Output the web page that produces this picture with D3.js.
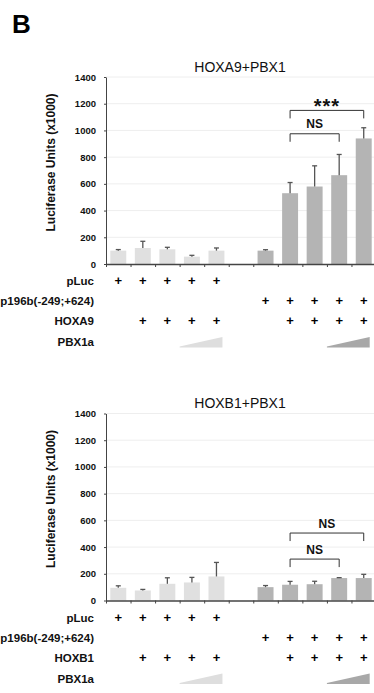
<!DOCTYPE html>
<html>
<head>
<meta charset="utf-8">
<script src="https://cdn.jsdelivr.net/npm/d3@7"></script>
<style>
  html, body { margin: 0; padding: 0; background: #fff; }
  svg { display: block; font-family: "Liberation Sans", Arial, sans-serif; }
</style>
</head>
<body>
<div id="chart"></div>
<script>
// columns of the figure: 5 pLuc conditions, an empty slot, 5 promoter conditions
const categories = ["L1", "L2", "L3", "L4", "L5", "gap", "P1", "P2", "P3", "P4", "P5"];
const groupOf = ["light", "light", "light", "light", "light", null, "dark", "dark", "dark", "dark", "dark"];

const pLucRow = ["+", "+", "+", "+", "+", "", "", "", "", "", ""];
const promoterRow = ["", "", "", "", "", "", "+", "+", "+", "+", "+"];
const hoxRow = ["", "+", "+", "+", "+", "", "", "+", "+", "+", "+"];
const pbxRamps = [["L4", "L5", "light"], ["P4", "P5", "dark"]];

const yTicks = [0, 200, 400, 600, 800, 1000, 1200, 1400];

const hoxa9Means = [100, 120, 110, 55, 100, null, 100, 530, 580, 665, 940];
const hoxa9Errors = [8, 50, 15, 10, 20, null, 7, 80, 155, 155, 80];
const hoxa9Brackets = [
  { from: "P2", to: "P5", top: 1150, label: "***" },
  { from: "P2", to: "P4", top: 975, label: "NS" }
];

const hoxb1Means = [95, 75, 125, 135, 180, null, 100, 118, 122, 168, 168];
const hoxb1Errors = [15, 8, 45, 38, 105, null, 12, 25, 22, 3, 28];
const hoxb1Brackets = [
  { from: "P2", to: "P5", top: 505, label: "NS" },
  { from: "P2", to: "P4", top: 310, label: "NS" }
];

const width = 374;
const height = 693;
const colors = { light: "#e0e0e0", dark: "#b4b4b4" };
const rampColors = { light: "#dedede", dark: "#a8a8a8" };

const svg = d3.select("#chart")
  .append("svg")
  .attr("width", width)
  .attr("height", height);

svg.append("rect")
  .attr("width", width)
  .attr("height", height)
  .attr("fill", "#fff");

svg.append("text")
  .attr("x", 12)
  .attr("y", 33)
  .attr("font-size", "26px")
  .attr("font-weight", "700")
  .attr("fill", "#000")
  .text("B");

function drawPanel(opts) {
  const { top, bottom, title, means, errors, brackets, hoxLabel } = opts;
  const left = 106;
  const right = 376;

  const x = d3.scaleBand()
    .domain(categories)
    .range([left, right])
    .paddingInner(0.35)
    .paddingOuter(0.175);

  const slots = d3.scaleLinear().domain([0, categories.length]).range([left, right]);

  const y = d3.scaleLinear().domain([0, 1400]).range([bottom, top]);

  const g = svg.append("g");

  // gridlines
  g.selectAll(".grid")
    .data(yTicks.slice(1))
    .enter()
    .append("line")
    .attr("x1", left)
    .attr("x2", right)
    .attr("y1", d => y(d))
    .attr("y2", d => y(d))
    .attr("stroke", "#eeeeee")
    .attr("stroke-width", 1);

  // title
  g.append("text")
    .attr("x", 240)
    .attr("y", top - 5.5)
    .attr("text-anchor", "middle")
    .attr("font-size", "14px")
    .attr("fill", "#111")
    .text(title);

  // y axis
  const yAxis = g.append("g")
    .attr("transform", `translate(${left},0)`)
    .call(d3.axisLeft(y).tickValues(yTicks).tickFormat(d3.format("d")).tickSizeInner(2).tickSizeOuter(0).tickPadding(8));
  yAxis.select(".domain").attr("stroke", "#444");
  yAxis.selectAll(".tick line").attr("stroke", "#444");
  yAxis.selectAll(".tick text")
    .attr("font-size", "9.5px")
    .attr("font-weight", "700")
    .attr("fill", "#111")
    .attr("font-family", "Liberation Sans, Arial, sans-serif");

  g.append("text")
    .attr("transform", `translate(55,${(top + bottom) / 2 - 8}) rotate(-90)`)
    .attr("text-anchor", "middle")
    .attr("font-size", "12px")
    .attr("font-weight", "700")
    .attr("fill", "#111")
    .text("Luciferase Units (x1000)");

  // bars
  categories.forEach((cat, i) => {
    if (means[i] == null) return;
    g.append("rect")
      .attr("x", x(cat))
      .attr("width", x.bandwidth())
      .attr("y", y(means[i]))
      .attr("height", bottom - y(means[i]))
      .attr("fill", colors[groupOf[i]]);

    const cx = x(cat) + x.bandwidth() / 2;
    const yTop = y(means[i] + errors[i]);
    g.append("line")
      .attr("x1", cx).attr("x2", cx)
      .attr("y1", y(means[i])).attr("y2", yTop)
      .attr("stroke", "#555")
      .attr("stroke-width", 1.3);
    g.append("line")
      .attr("x1", cx - 2.5).attr("x2", cx + 2.5)
      .attr("y1", yTop).attr("y2", yTop)
      .attr("stroke", "#555")
      .attr("stroke-width", 1.3);
  });

  // x axis with ticks at slot boundaries
  const xAxis = g.append("g")
    .attr("transform", `translate(0,${bottom})`)
    .call(d3.axisBottom(slots).tickValues(d3.range(0, categories.length + 1)).tickFormat("").tickSizeInner(3).tickSizeOuter(0));
  xAxis.select(".domain").attr("stroke", "#444").attr("stroke-width", 1.3);
  xAxis.selectAll(".tick line").attr("stroke", "#444");

  // significance brackets
  brackets.forEach(b => {
    const x1 = x(b.from) + x.bandwidth() / 2;
    const x2 = x(b.to) + x.bandwidth() / 2;
    const by = y(b.top);
    g.append("path")
      .attr("d", `M${x1},${by + 8}V${by}H${x2}V${by + 8}`)
      .attr("fill", "none")
      .attr("stroke", "#333")
      .attr("stroke-width", 1);
    const star = b.label === "***";
    g.append("text")
      .attr("x", (x1 + x2) / 2)
      .attr("y", star ? by + 3 : by - 5.5)
      .attr("text-anchor", "middle")
      .attr("font-size", star ? "20px" : "12px")
      .attr("font-weight", "700")
      .attr("letter-spacing", star ? "1px" : "0px")
      .attr("fill", "#111")
      .text(b.label);
  });

  // condition table
  const rows = [
    { label: "pLuc", marks: pLucRow, dy: 17 },
    { label: "p196b(-249;+624)", marks: promoterRow, dy: 37 },
    { label: hoxLabel, marks: hoxRow, dy: 57 }
  ];
  rows.forEach(r => {
    g.append("text")
      .attr("x", 94)
      .attr("y", bottom + r.dy + 4)
      .attr("text-anchor", "end")
      .attr("font-size", "11.5px")
      .attr("font-weight", "700")
      .attr("fill", "#111")
      .text(r.label);
    categories.forEach((cat, i) => {
      if (!r.marks[i]) return;
      g.append("text")
        .attr("x", x(cat) + x.bandwidth() / 2)
        .attr("y", bottom + r.dy + 4)
        .attr("text-anchor", "middle")
        .attr("font-size", "13px")
        .attr("font-weight", "700")
        .attr("fill", "#000")
        .text(r.marks[i]);
    });
  });

  g.append("text")
    .attr("x", 94)
    .attr("y", bottom + 82)
    .attr("text-anchor", "end")
    .attr("font-size", "11.5px")
    .attr("font-weight", "700")
    .attr("fill", "#111")
    .text("PBX1a");

  pbxRamps.forEach(([from, to, tone]) => {
    const x1 = x(from) - x.step() * x.paddingInner() / 2;
    const x2 = x(to) + x.bandwidth() * 0.875;
    const yb = bottom + 83.5;
    g.append("path")
      .attr("d", `M${x1},${yb}L${x2},${yb}L${x2},${yb - 10.5}L${x1},${yb - 1}Z`)
      .attr("fill", rampColors[tone]);
  });
}

drawPanel({
  top: 77, bottom: 264,
  title: "HOXA9+PBX1",
  means: hoxa9Means, errors: hoxa9Errors,
  brackets: hoxa9Brackets, hoxLabel: "HOXA9"
});

drawPanel({
  top: 413.5, bottom: 600.5,
  title: "HOXB1+PBX1",
  means: hoxb1Means, errors: hoxb1Errors,
  brackets: hoxb1Brackets, hoxLabel: "HOXB1"
});
</script>
</body>
</html>
